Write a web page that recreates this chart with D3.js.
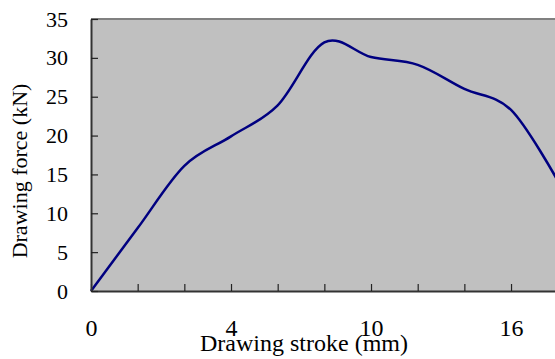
<!DOCTYPE html>
<html>
<head>
<meta charset="utf-8">
<script src="https://cdn.jsdelivr.net/npm/d3@7"></script>
<style>
  html, body { margin: 0; padding: 0; background: #fff; }
  svg { display: block; }
  text { font-family: "Liberation Serif", "Times New Roman", serif; fill: #000; }
</style>
</head>
<body>
<svg id="chart" width="555" height="359"></svg>
<script>
// category positions (index) along the stroke axis, labelled every third tick
const strokeIndex = [0, 1, 2, 3, 4, 5, 6, 7, 8, 9, 10];
const strokeLabels = ["0", "", "", "4", "", "", "10", "", "", "16", ""];
// drawing force in kN at each category
const forceValues = [0, 8.1, 16.1, 19.9, 23.9, 32.0, 30.1, 29.1, 26.0, 23.3, 14.2];
const yTicks = [0, 5, 10, 15, 20, 25, 30, 35];

(function () {
const svg = d3.select("#chart");
const mLeft = 91, mTop = 19, mBottom = 291;
const step = 46.67;

const x = d3.scaleLinear().domain([0, 10]).range([mLeft, mLeft + step * 10]);
const y = d3.scaleLinear().domain([0, 35]).range([mBottom, mTop]);

// plot area
svg.append("rect")
  .attr("x", mLeft).attr("y", mTop)
  .attr("width", 555 - mLeft + 10).attr("height", mBottom - mTop)
  .attr("fill", "#c0c0c0");

// top border
svg.append("line")
  .attr("x1", mLeft).attr("x2", 560)
  .attr("y1", mTop).attr("y2", mTop)
  .attr("stroke", "#808080").attr("stroke-width", 2);

// curve
const line = d3.line()
  .x((d, i) => x(strokeIndex[i]))
  .y(d => y(d))
  .curve(d3.curveCatmullRom.alpha(0));

svg.append("path")
  .datum(forceValues)
  .attr("d", line)
  .attr("fill", "none")
  .attr("stroke", "#000080")
  .attr("stroke-width", 2.5);

// x axis
const xAxis = d3.axisBottom(x)
  .tickValues(strokeIndex)
  .tickSizeInner(-7)
  .tickSizeOuter(0)
  .tickPadding(28)
  .tickFormat((d, i) => strokeLabels[i]);

const gx = svg.append("g")
  .attr("transform", `translate(0,${mBottom})`)
  .call(xAxis);
gx.select(".domain").attr("stroke", "#333").attr("stroke-width", 2);
gx.selectAll(".tick line").attr("stroke", "#222").attr("stroke-width", 1.2);
gx.selectAll(".tick text")
  .style("font-family", '"Liberation Serif", serif')
  .style("font-size", "24px")
  .attr("fill", "#000");

// y axis
const yAxis = d3.axisLeft(y)
  .tickValues(yTicks)
  .tickSizeInner(-7)
  .tickSizeOuter(0)
  .tickPadding(23);

const gy = svg.append("g")
  .attr("transform", `translate(${mLeft},0)`)
  .call(yAxis);
gy.select(".domain").attr("stroke", "#333").attr("stroke-width", 2);
gy.selectAll(".tick line").attr("stroke", "#222").attr("stroke-width", 1.2);
gy.selectAll(".tick text")
  .style("font-family", '"Liberation Serif", serif')
  .style("font-size", "22px")
  .attr("fill", "#000");

// axis titles
svg.append("text")
  .attr("x", 304).attr("y", 351)
  .attr("text-anchor", "middle")
  .style("font-size", "24px")
  .text("Drawing stroke (mm)");

svg.append("text")
  .attr("transform", "translate(27,171) rotate(-90)")
  .attr("text-anchor", "middle")
  .style("font-size", "22px")
  .text("Drawing force (kN)");
})();
</script>
</body>
</html>
